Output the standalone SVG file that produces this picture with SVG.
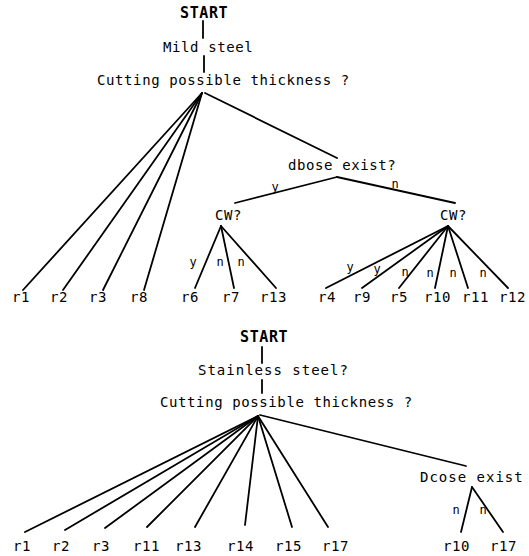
<svg xmlns="http://www.w3.org/2000/svg" width="529" height="556" viewBox="0 0 529 556">
<style>
text{font-family:"DejaVu Sans Mono","Liberation Mono",monospace;font-size:14px;letter-spacing:0.6px;fill:#000}
.big{font-size:15px;font-weight:bold}
.wide{letter-spacing:1px}
.sm{font-size:12px;letter-spacing:0}
.mid{text-anchor:middle}
line{stroke:#000;stroke-width:1.8;stroke-linecap:round}
</style>
<rect width="529" height="556" fill="#fff"/>
<g id="connectors">
<line x1="203" y1="21" x2="203" y2="38"/>
<line x1="204" y1="56" x2="204" y2="72"/>
<line x1="202" y1="93" x2="23" y2="290"/>
<line x1="202" y1="93" x2="63" y2="290"/>
<line x1="202" y1="93" x2="103" y2="290"/>
<line x1="202" y1="93" x2="144" y2="290"/>
<line x1="205" y1="93" x2="337" y2="158"/>
<line x1="337" y1="177" x2="235" y2="203"/>
<line x1="337" y1="177" x2="455" y2="203"/>
<line x1="221" y1="226" x2="195" y2="288"/>
<line x1="221" y1="226" x2="234" y2="288"/>
<line x1="221" y1="226" x2="276" y2="288"/>
<line x1="448" y1="226" x2="326" y2="288"/>
<line x1="448" y1="226" x2="362" y2="288"/>
<line x1="448" y1="226" x2="399" y2="288"/>
<line x1="448" y1="226" x2="435" y2="288"/>
<line x1="448" y1="226" x2="468" y2="288"/>
<line x1="448" y1="226" x2="508" y2="288"/>
<line x1="262" y1="347" x2="262" y2="363"/>
<line x1="262" y1="380" x2="262" y2="393"/>
<line x1="258" y1="416" x2="25" y2="532"/>
<line x1="258" y1="416" x2="65" y2="530"/>
<line x1="258" y1="416" x2="105" y2="528"/>
<line x1="258" y1="416" x2="147" y2="527"/>
<line x1="258" y1="416" x2="195" y2="527"/>
<line x1="258" y1="416" x2="245" y2="525"/>
<line x1="258" y1="416" x2="292" y2="527"/>
<line x1="258" y1="416" x2="328" y2="527"/>
<line x1="260" y1="415" x2="466" y2="466"/>
<line x1="472" y1="487" x2="461" y2="532"/>
<line x1="472" y1="487" x2="503" y2="532"/>
</g>
<g id="edge-labels">
<text class="sm mid" x="275" y="191">y</text>
<text class="sm mid" x="395" y="188">n</text>
<text class="sm mid" x="193" y="266">y</text>
<text class="sm mid" x="220" y="266">n</text>
<text class="sm mid" x="241" y="266">n</text>
<text class="sm mid" x="350" y="271">y</text>
<text class="sm mid" x="377" y="273">y</text>
<text class="sm mid" x="405" y="276">n</text>
<text class="sm mid" x="430" y="277">n</text>
<text class="sm mid" x="453" y="277">n</text>
<text class="sm mid" x="483" y="277">n</text>
<text class="sm mid" x="456" y="514">n</text>
<text class="sm mid" x="483" y="514">n</text>
</g>
<g id="start1"><text class="big" x="180" y="18">START</text></g>
<g id="mild-steel"><text x="163" y="52">Mild steel</text></g>
<g id="cutting1"><text x="97" y="85">Cutting possible thickness ?</text></g>
<g id="dbose1"><text x="288" y="170">dbose exist?</text></g>
<g id="cw1"><text x="215" y="220">CW?</text></g>
<g id="cw2"><text x="440" y="220">CW?</text></g>
<g id="leaves1">
<text x="12" y="302">r1</text>
<text x="50" y="302">r2</text>
<text x="89" y="302">r3</text>
<text x="130" y="302">r8</text>
<text x="181" y="302">r6</text>
<text x="222" y="302">r7</text>
<text x="260" y="302">r13</text>
<text x="318" y="302">r4</text>
<text x="353" y="302">r9</text>
<text x="390" y="302">r5</text>
<text x="424" y="302">r10</text>
<text x="462" y="302">r11</text>
<text x="499" y="302">r12</text>
</g>
<g id="start2"><text class="big" x="240" y="342">START</text></g>
<g id="stainless"><text class="wide" x="198" y="375">Stainless steel?</text></g>
<g id="cutting2"><text x="160" y="407">Cutting possible thickness ?</text></g>
<g id="dbose2"><text class="wide" x="420" y="482">Dcose exist</text></g>
<g id="leaves2">
<text x="13" y="551">r1</text>
<text x="52" y="551">r2</text>
<text x="92" y="551">r3</text>
<text x="133" y="551">r11</text>
<text x="175" y="551">r13</text>
<text x="227" y="551">r14</text>
<text x="275" y="551">r15</text>
<text x="322" y="551">r17</text>
<text x="443" y="551">r10</text>
<text x="490" y="551">r17</text>
</g>
</svg>
